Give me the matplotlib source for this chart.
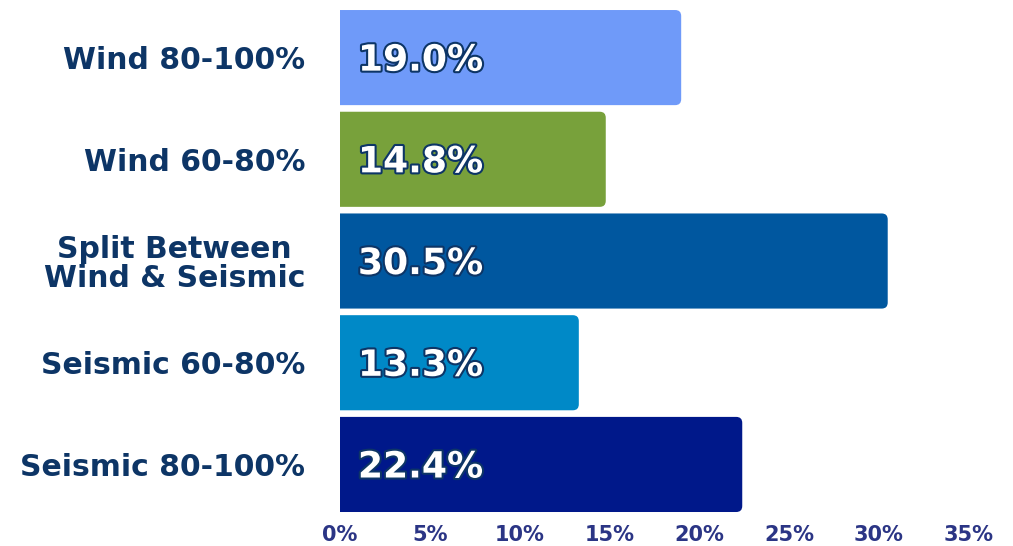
import matplotlib
matplotlib.use("Agg")
import matplotlib.pyplot as plt
import matplotlib.patheffects as pe
from matplotlib.path import Path
from matplotlib.patches import PathPatch

categories = ["Wind 80-100%", "Wind 60-80%", "Split Between\nWind & Seismic",
              "Seismic 60-80%", "Seismic 80-100%"]
values = [19.0, 14.8, 30.5, 13.3, 22.4]
colors = ["#6F9AF9", "#78A13B", "#00579F", "#0089C7", "#00188A"]
xticks = [0, 5, 10, 15, 20, 25, 30, 35]

plt.rcParams["font.family"] = ["DejaVu Sans"]

fig = plt.figure(figsize=(10.13, 5.46), dpi=100)
ax = fig.add_axes([0.3356, 0.0562, 0.6205, 0.9315])

ypos = list(range(len(categories)))
bars = ax.barh(ypos, values, height=0.935, color="none")

ax.set_xlim(0, 35)
ax.set_ylim(4.5, -0.5)

# bars with rounded right corners only (~6px radius)
rx = 6 / 17.96
ry = 6 / 101.6
for b, c in zip(bars, colors):
    x0, y0 = b.get_x(), b.get_y()
    x1, y1 = x0 + b.get_width(), y0 + b.get_height()
    verts = [(x0, y0), (x1 - rx, y0), (x1, y0), (x1, y0 + ry),
             (x1, y1 - ry), (x1, y1), (x1 - rx, y1), (x0, y1), (x0, y0)]
    codes = [Path.MOVETO, Path.LINETO, Path.CURVE3, Path.CURVE3,
             Path.LINETO, Path.CURVE3, Path.CURVE3, Path.LINETO, Path.CLOSEPOLY]
    ax.add_patch(PathPatch(Path(verts, codes), facecolor=c, edgecolor="none"))

for y, v in zip(ypos, values):
    ax.text(1.0, y + 0.03, f"{v:.1f}%", va="center", ha="left", color="white",
            fontsize=26, fontweight="bold",
            path_effects=[pe.withStroke(linewidth=3, foreground="#0D3566")])

ax.set_yticks(ypos)
ax.set_yticklabels(categories, fontsize=21.5, fontweight="bold", color="#0D3566",
                   linespacing=1.0, multialignment="center")
ax.set_xticks(xticks)
ax.set_xticklabels([f"{t}%" for t in xticks], fontsize=15, fontweight="bold",
                   color="#2B3585")
ax.tick_params(axis="y", length=0, pad=25)
ax.tick_params(axis="x", length=0, pad=7)
for s in ax.spines.values():
    s.set_visible(False)

fig.savefig("out.png", dpi=100)
